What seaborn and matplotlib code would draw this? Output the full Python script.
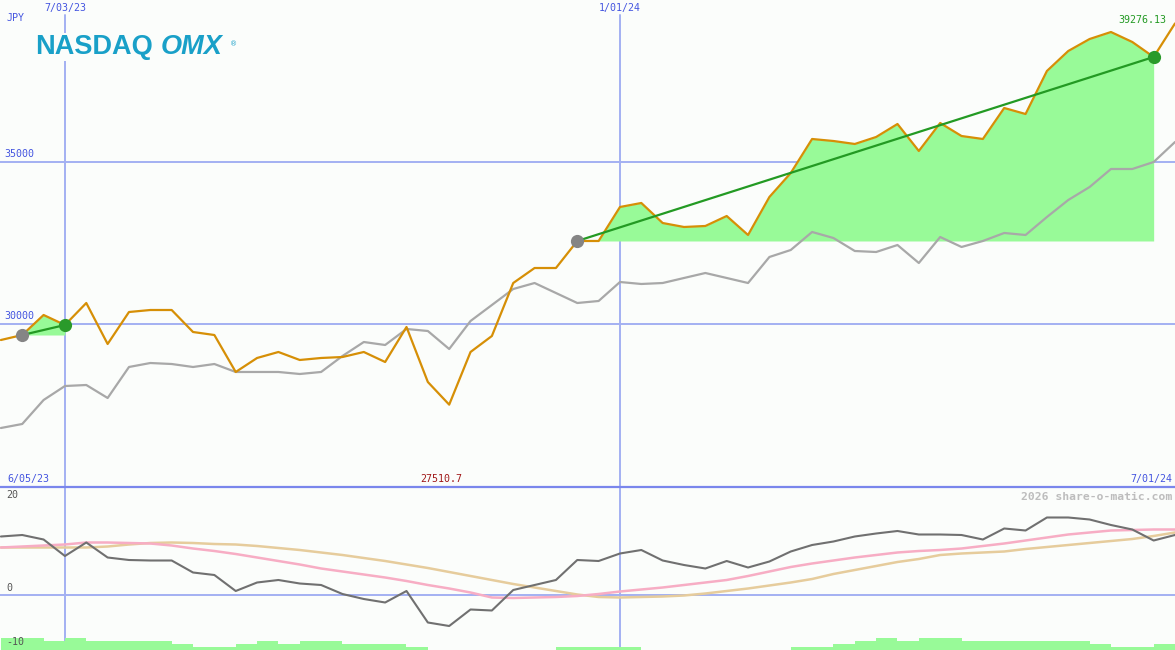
import matplotlib
matplotlib.use("Agg")
import matplotlib.pyplot as plt
import matplotlib.transforms as mtransforms
from matplotlib.lines import Line2D
import numpy as np
import pandas as pd
import seaborn as sns

# ---------------- data (weekly) ----------------
weeks = list(range(56))

price = [29506, 29660, 30278, 29969, 30648, 29383, 30370, 30432, 30432, 29753,
         29660, 28519, 28951, 29136, 28889, 28951, 28981, 29136, 28827, 29907,
         28210, 27510.7, 29136, 29630, 31265, 31728, 31728, 32562, 32562, 33611,
         33735, 33117, 32994, 33025, 33333, 32747, 33920, 34660, 35710, 35648,
         35556, 35772, 36173, 35340, 36204, 35802, 35710, 36667, 36481, 37809,
         38426, 38796, 39012, 38704, 38241, 39276.13]

compare = [26790, 26914, 27654, 28086, 28117, 27716, 28673, 28796, 28765, 28673,
           28765, 28519, 28519, 28519, 28457, 28519, 29012, 29444, 29352, 29846,
           29784, 29228, 30093, 30586, 31080, 31265, 30957, 30648, 30710, 31296,
           31235, 31265, 31420, 31574, 31420, 31265, 32068, 32284, 32840, 32654,
           32253, 32222, 32438, 31883, 32685, 32377, 32562, 32809, 32747, 33302,
           33827, 34228, 34784, 34784, 35000, 35617]

oscillator = [11.7, 12.0, 11.1, 7.8, 10.5, 7.5, 7.0, 6.9, 6.9, 4.5,
              4.0, 0.8, 2.5, 3.0, 2.3, 2.0, 0.2, -0.8, -1.5, 0.8,
              -5.5, -6.2, -2.9, -3.1, 1.0, 2.0, 3.0, 7.0, 6.8, 8.3,
              9.0, 6.9, 6.0, 5.3, 6.8, 5.5, 6.7, 8.7, 10.0, 10.7,
              11.7, 12.3, 12.8, 12.1, 12.1, 12.0, 11.1, 13.3, 12.9, 15.5,
              15.5, 15.1, 14.0, 13.1, 10.9, 12.0]

signal_fast = [9.5, 9.7, 9.9, 10.1, 10.5, 10.5, 10.4, 10.3, 9.9, 9.3,
               8.8, 8.2, 7.5, 6.8, 6.1, 5.3, 4.7, 4.1, 3.5, 2.8,
               2.0, 1.3, 0.5, -0.5, -0.6, -0.5, -0.4, -0.2, 0.2, 0.7,
               1.1, 1.5, 2.0, 2.5, 3.0, 3.8, 4.7, 5.6, 6.3, 6.9,
               7.5, 8.0, 8.5, 8.8, 9.0, 9.3, 9.8, 10.3, 10.9, 11.5,
               12.1, 12.5, 12.9, 13.0, 13.1, 13.1]

signal_slow = [9.5, 9.5, 9.5, 9.5, 9.5, 9.7, 10.1, 10.4, 10.5, 10.4,
               10.2, 10.1, 9.8, 9.4, 9.0, 8.5, 8.0, 7.4, 6.8, 6.1,
               5.4, 4.6, 3.8, 3.0, 2.2, 1.5, 0.8, 0.1, -0.4, -0.5,
               -0.4, -0.3, -0.1, 0.3, 0.8, 1.3, 1.9, 2.5, 3.2, 4.2,
               5.0, 5.8, 6.6, 7.2, 8.0, 8.3, 8.5, 8.7, 9.2, 9.6,
               10.0, 10.4, 10.8, 11.2, 11.8, 12.5]

volume_level = [4, 4, 3, 4, 3, 3, 3, 3, 2, 1,
                1, 2, 3, 2, 3, 3, 2, 2, 2, 1,
                0, 0, 0, 0, 0, 0, 1, 1, 1, 1,
                0, 0, 0, 0, 0, 0, 0, 1, 1, 2,
                3, 4, 3, 4, 4, 3, 3, 3, 3, 3,
                3, 2, 1, 1, 2, 2]

date_ticks = [3, 29]
date_tick_labels = ["7/03/23", "1/01/24"]
first_date, last_date = "6/05/23", "7/01/24"
price_grid = [30000, 35000]
price_grid_labels = ["30000", "35000"]
trend_segments = [(1, 3), (27, 54)]
currency = "JPY"
min_label = "27510.7"
last_label = "39276.13"

# ---------------- style ----------------
BG = "#fbfdfb"
GRID = "#a3b0f2"
SEP = "#7a86ec"
BLUE_TXT = "#4455e0"
ORANGE = "#d68f06"
GRAY = "#a8a8a8"
FILL = "#98fa98"
TREND = "#239a23"

sns.set_theme(style="white", rc={"axes.facecolor": BG, "figure.facecolor": BG})
plt.rcParams["font.family"] = ["DejaVu Sans Mono", "DejaVu Sans"]

df = pd.DataFrame({"week": weeks, "price": price, "compare": compare,
                   "osc": oscillator, "fast": signal_fast, "slow": signal_slow,
                   "vol": volume_level})

W, H = 1175, 650
fig = plt.figure(figsize=(W / 100, H / 100), dpi=100, facecolor=BG)
split = 163 / H
ax = fig.add_axes([0, split, 1, 1 - split])
axb = fig.add_axes([0, 0, 1, split])
XL = (-0.042, 55.0)

for a in (ax, axb):
    a.set_xlim(*XL)
    a.set_facecolor(BG)
    for s in a.spines.values():
        s.set_visible(False)
    a.set_xticks([]); a.set_yticks([])
    a.set_xlabel(""); a.set_ylabel("")

# ---------------- top panel ----------------
ax.set_ylim(24969, 40000)
for g in price_grid:
    ax.axhline(g, color=GRID, lw=1.4, zorder=1)
for d in date_ticks:
    ax.axvline(d, ymin=0, ymax=(487 - 15) / 487, color=GRID, lw=1.4, zorder=1)

for s, e in trend_segments:
    xs = np.array(weeks[s:e + 1]); ys = np.array(price[s:e + 1])
    base = price[s]
    ax.fill_between(xs, base, ys, where=ys >= base, interpolate=True,
                    color=FILL, lw=0, zorder=2)

sns.lineplot(data=df, x="week", y="compare", color=GRAY, lw=1.6, ax=ax, zorder=3)
sns.lineplot(data=df, x="week", y="price", color=ORANGE, lw=1.6, ax=ax, zorder=4)

for s, e in trend_segments:
    ax.plot([s, e], [price[s], price[e]], color=TREND, lw=1.6, zorder=5)
    ax.plot([s], [price[s]], "o", color="#858585", ms=9.5, mec="none", zorder=6)
    ax.plot([e], [price[e]], "o", color="#2a9a2a", ms=9.5, mec="none", zorder=6)

ax.set_xlabel(""); ax.set_ylabel("")
ax.set_xticks([]); ax.set_yticks([])

trans = mtransforms.blended_transform_factory(ax.transAxes, ax.transData)
for g, lab in zip(price_grid, price_grid_labels):
    ax.text(0.004, g + 80, lab, transform=trans, color=BLUE_TXT, fontsize=7.2,
            ha="left", va="bottom", zorder=7)

def px(x, y):
    return x / W, 1 - y / H

for d, lab in zip(date_ticks, date_tick_labels):
    xf = ax.transData.transform((d, 0))[0] / W
    fig.text(xf, 1 - 8 / H, lab, color=BLUE_TXT, fontsize=7.2, ha="center", va="center")

fig.text(*px(7, 18), currency, color=BLUE_TXT, fontsize=7.2, ha="left", va="center")
fig.text(*px(1166, 20), last_label, color="#239a23", fontsize=7.2, ha="right", va="center")

# logo
fig.text(*px(35, 47), "NASDAQ", family="Liberation Sans", fontweight="bold",
         fontsize=19.5, color="#19a0c8", ha="left", va="center",
         bbox=dict(facecolor=BG, edgecolor="none", pad=1), zorder=10)
fig.text(*px(161, 47), "OMX", family="Liberation Sans", fontweight="bold",
         fontstyle="italic", fontsize=19.5, color="#19a0c8", ha="left", va="center",
         bbox=dict(facecolor=BG, edgecolor="none", pad=1), zorder=10)
fig.text(*px(230, 44), "\u00ae", family="DejaVu Sans", fontsize=5, color="#19a0c8",
         ha="left", va="center", zorder=11)

# ---------------- bottom panel ----------------
axb.set_ylim(-11, 21.6)
axb.axhline(0, color=GRID, lw=1.4, zorder=1)
for d in date_ticks:
    axb.axvline(d, color=GRID, lw=1.4, zorder=1)

sns.lineplot(data=df, x="week", y="slow", color="#e6cc9c", lw=1.8, ax=axb, zorder=2)
sns.lineplot(data=df, x="week", y="fast", color="#f7adc4", lw=1.8, ax=axb, zorder=3)
sns.lineplot(data=df, x="week", y="osc", color="#707070", lw=1.5, ax=axb, zorder=4)
axb.set_xlabel(""); axb.set_ylabel("")
axb.set_xticks([]); axb.set_yticks([])

axv = axb.twinx()
axv.set_xlim(*XL)
axv.set_ylim(0, 53)
axv.bar(weeks, volume_level, width=1.0, align="edge", color=FILL, lw=0, zorder=1)
axv.set_yticks([]); axv.set_xticks([])
for s in axv.spines.values():
    s.set_visible(False)
axv.patch.set_visible(False)

for val, lab, ypix in [(20, "20", 495), (0, "0", 588), (-10, "-10", 642)]:
    fig.text(*px(6, ypix), lab, color="#555555", fontsize=7.2, ha="left",
             va="center", zorder=12)

fig.add_artist(Line2D([0, 1], [split, split], transform=fig.transFigure,
                      color=SEP, lw=1.6, zorder=8))

fig.text(*px(7, 479), first_date, color=BLUE_TXT, fontsize=7.2, ha="left", va="center")
fig.text(*px(1172, 479), last_date, color=BLUE_TXT, fontsize=7.2, ha="right", va="center")
xmin_f = ax.transData.transform((int(np.argmin(price)), 0))[0] / W
fig.text(xmin_f - 8 / W, 1 - 479 / H, min_label, color="#a01818", fontsize=7.2,
         ha="center", va="center")
fig.text(*px(1172, 497), "2026 share-o-matic.com", color="#bdbdbd", fontsize=8.2,
         fontweight="bold", ha="right", va="center")

fig.savefig("out.png", dpi=100, facecolor=BG)
